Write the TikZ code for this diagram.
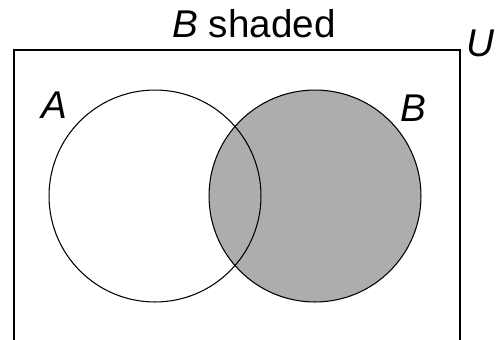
\documentclass[tikz,border=0pt]{standalone}
\usepackage{fontspec}
\setmainfont{Liberation Sans}
\definecolor{shadegray}{RGB}{173,173,173}
\tikzset{
  setlabel/.style={inner sep=0pt, font=\fontsize{22}{26}\selectfont},
  setline/.style={draw=black, line width=0.6pt}
}
\begin{document}
\begin{tikzpicture}[x=0.02cm, y=-0.02cm]
  \useasboundingbox (0,0) rectangle (497,339);
  \clip (0,0) rectangle (497,339);
  % universe
  \draw[setline, line width=0.8pt] (14,350) |- (460,50) -- (460,350);
  % circle centres
  \coordinate (ca) at (155,196);
  \coordinate (cb) at (315,196);
  \fill[shadegray] (cb) circle[radius=2.12cm];
  \draw[setline] (ca) circle[radius=2.12cm];
  \draw[setline] (cb) circle[radius=2.12cm];
  % labels
  \node[setlabel, anchor=base] (title) at (254,37) {\textit{B} shaded};
  \node[setlabel, anchor=base west] (labU) at (466,56) {\textit{U}};
  \node[setlabel, anchor=base west] (labA) at (41,118) {\textit{A}};
  \node[setlabel, anchor=base west] (labB) at (400,121) {\textit{B}};
\end{tikzpicture}
\end{document}
